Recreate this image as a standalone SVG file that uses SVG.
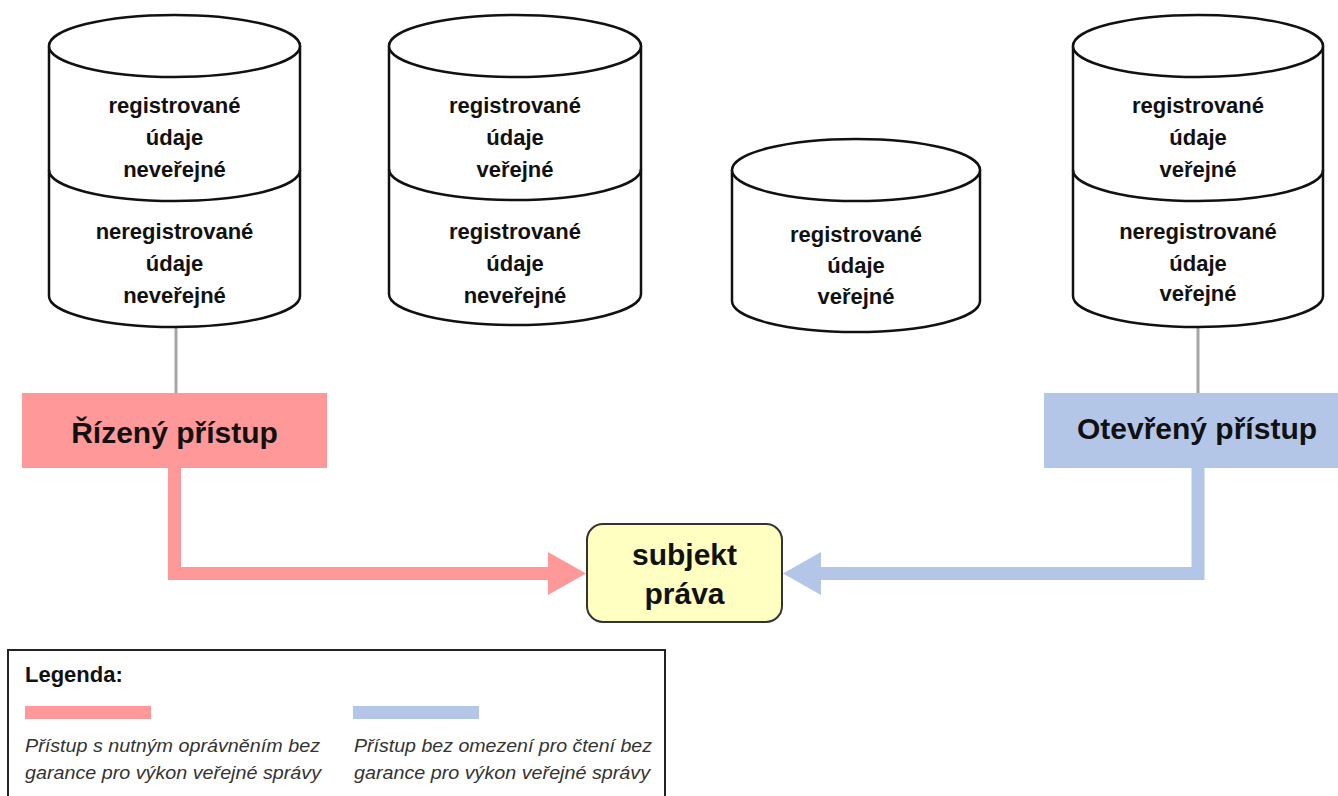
<svg xmlns="http://www.w3.org/2000/svg" width="1338" height="796" viewBox="0 0 1338 796">
<style>
.cyl{fill:#fff;stroke:#111;stroke-width:2.5}
.ct{font-family:"Liberation Sans",Arial,sans-serif;font-weight:bold;font-size:22px;fill:#111;text-anchor:middle}
.bt{font-family:"Liberation Sans",Arial,sans-serif;font-weight:bold;fill:#111;text-anchor:middle}
.lt{font-family:"Liberation Sans",Arial,sans-serif;font-style:italic;font-size:17.5px;fill:#333}
.gray{stroke:#A6A6A6;stroke-width:3;fill:none}
</style>
<rect width="1338" height="796" fill="#fff"/>
<g id="connectors">
<line class="gray" x1="176" y1="327" x2="176" y2="393"/>
<line class="gray" x1="1198" y1="327" x2="1198" y2="393"/>
<path d="M174.5 468 V573.5 H552" fill="none" stroke="#FF9999" stroke-width="13"/>
<polygon points="586,573.5 548,552 548,595" fill="#FF9999"/>
<path d="M1198 468 V573.5 H817" fill="none" stroke="#B4C6E7" stroke-width="13"/>
<polygon points="783,573.5 821,552 821,595" fill="#B4C6E7"/>
</g>
<g id="cyl1">
<path class="cyl" d="M49 46 V296 A125.5 31 0 0 0 300 296 V46"/>
<ellipse class="cyl" cx="174.5" cy="46" rx="125.5" ry="31"/>
<path class="cyl" d="M49 170 A125.5 31 0 0 0 300 170" style="fill:none"/>
<text class="ct" x="174.5" y="113">registrované</text>
<text class="ct" x="174.5" y="145">údaje</text>
<text class="ct" x="174.5" y="177">neveřejné</text>
<text class="ct" x="174.5" y="239">neregistrované</text>
<text class="ct" x="174.5" y="271">údaje</text>
<text class="ct" x="174.5" y="303">neveřejné</text>
</g>
<g id="cyl2">
<path class="cyl" d="M389 46 V294 A126 31 0 0 0 641 294 V46"/>
<ellipse class="cyl" cx="515" cy="46" rx="126" ry="31"/>
<path class="cyl" d="M389 169 A126 31 0 0 0 641 169" style="fill:none"/>
<text class="ct" x="515" y="113">registrované</text>
<text class="ct" x="515" y="145">údaje</text>
<text class="ct" x="515" y="177">veřejné</text>
<text class="ct" x="515" y="239">registrované</text>
<text class="ct" x="515" y="271">údaje</text>
<text class="ct" x="515" y="303">neveřejné</text>
</g>
<g id="cyl3">
<path class="cyl" d="M732 170 V301 A124 31 0 0 0 980 301 V170"/>
<ellipse class="cyl" cx="856" cy="170" rx="124" ry="31"/>
<text class="ct" x="856" y="242">registrované</text>
<text class="ct" x="856" y="273">údaje</text>
<text class="ct" x="856" y="304">veřejné</text>
</g>
<g id="cyl4">
<path class="cyl" d="M1073 46 V296 A125 31 0 0 0 1323 296 V46"/>
<ellipse class="cyl" cx="1198" cy="46" rx="125" ry="31"/>
<path class="cyl" d="M1073 170 A125 31 0 0 0 1323 170" style="fill:none"/>
<text class="ct" x="1198" y="113">registrované</text>
<text class="ct" x="1198" y="145">údaje</text>
<text class="ct" x="1198" y="177">veřejné</text>
<text class="ct" x="1198" y="239">neregistrované</text>
<text class="ct" x="1198" y="271">údaje</text>
<text class="ct" x="1198" y="301">veřejné</text>
</g>
<g id="rizeny">
<rect x="22" y="393" width="305" height="75" fill="#FF9999"/>
<text class="bt" x="174.5" y="443" font-size="30">Řízený přístup</text>
</g>
<g id="otevreny">
<rect x="1044" y="393" width="294" height="75" fill="#B4C6E7"/>
<text class="bt" x="1197" y="439" font-size="30">Otevřený přístup</text>
</g>
<g id="subjekt">
<rect x="587" y="524" width="195" height="98" rx="16" fill="#FFFFC2" stroke="#333" stroke-width="2"/>
<text class="bt" x="684.5" y="565" font-size="30">subjekt</text>
<text class="bt" x="684.5" y="604" font-size="30">práva</text>
</g>
<g id="legend">
<rect x="8" y="650" width="657" height="160" fill="#fff" stroke="#222" stroke-width="2"/>
<text x="25" y="682" font-family="Liberation Sans,Arial,sans-serif" font-weight="bold" font-size="22" fill="#111">Legenda:</text>
<rect x="25" y="706" width="126" height="13" fill="#FF9999"/>
<rect x="353" y="706" width="126" height="13" fill="#B4C6E7"/>
<text class="lt" x="25" y="752" textLength="295" lengthAdjust="spacingAndGlyphs">Přístup s nutným oprávněním bez</text>
<text class="lt" x="25" y="779" textLength="296" lengthAdjust="spacingAndGlyphs">garance pro výkon veřejné správy</text>
<text class="lt" x="354" y="752" textLength="298" lengthAdjust="spacingAndGlyphs">Přístup bez omezení pro čtení bez</text>
<text class="lt" x="354" y="779" textLength="296" lengthAdjust="spacingAndGlyphs">garance pro výkon veřejné správy</text>
</g>
</svg>
